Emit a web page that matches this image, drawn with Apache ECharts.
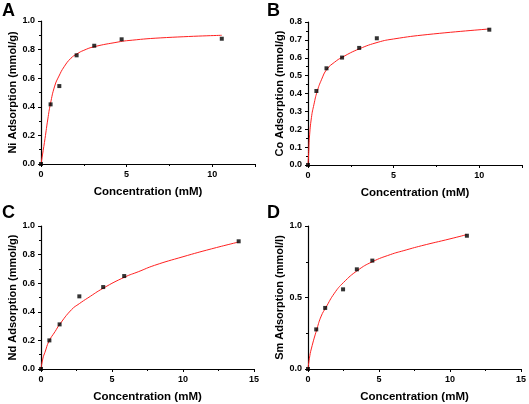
<!DOCTYPE html>
<html><head><meta charset="utf-8">
<script src="https://cdn.jsdelivr.net/npm/echarts@6/dist/echarts.min.js"></script>
<style>html,body{margin:0;padding:0;background:#fff}#c{width:529px;height:404px}</style>
</head><body><div id="c"></div>
<script>
// Panel A (Ni)
const aX = [0, 0.56, 1.07, 2.08, 3.11, 4.71, 10.56];
const aY = [0, 0.417, 0.545, 0.76, 0.827, 0.872, 0.876];
const aFitX = [0, 0.2, 0.4, 0.55, 0.8, 1.05, 1.35, 1.75, 2.1, 2.5, 3.1, 4.5, 5, 7, 10.56];
const aFitY = [0, 0.15, 0.315, 0.42, 0.545, 0.615, 0.68, 0.74, 0.77, 0.795, 0.82, 0.853, 0.862, 0.882, 0.90];
// Panel B (Co)
const bX = [0, 0.49, 1.08, 1.99, 2.99, 4.02, 10.59];
const bY = [0, 0.414, 0.541, 0.601, 0.655, 0.709, 0.757];
const bFitX = [0, 0.04, 0.08, 0.2, 0.35, 0.53, 0.8, 1.1, 1.55, 2, 3, 4.1, 5, 7, 10.59];
const bFitY = [0, 0.07, 0.15, 0.265, 0.34, 0.41, 0.48, 0.535, 0.575, 0.603, 0.65, 0.687, 0.705, 0.73, 0.761];
// Panel C (Nd)
const cX = [0, 0.59, 1.31, 2.70, 4.38, 5.86, 13.92];
const cY = [0, 0.20, 0.312, 0.508, 0.573, 0.650, 0.893];
const cFitX = [0, 0.14, 0.28, 0.56, 1, 1.3, 2.15, 2.7, 3.3, 4.4, 5.9, 6.85, 8, 10, 12, 13.92];
const cFitY = [0, 0.077, 0.117, 0.194, 0.263, 0.31, 0.415, 0.457, 0.497, 0.566, 0.643, 0.68, 0.725, 0.785, 0.84, 0.888];
// Panel D (Sm)
const dX = [0, 0.58, 1.21, 2.47, 3.44, 4.53, 11.19];
const dY = [0, 0.277, 0.427, 0.557, 0.697, 0.758, 0.932];
const dFitX = [0, 0.1, 0.23, 0.63, 0.93, 1.26, 1.86, 2.5, 3.5, 4.53, 5.8, 6.75, 8, 10, 11.19];
const dFitY = [0, 0.075, 0.14, 0.28, 0.37, 0.43, 0.53, 0.605, 0.69, 0.75, 0.80, 0.828, 0.862, 0.91, 0.94];

const letters = ['A', 'B', 'C', 'D'];
const yNames = ['Ni Adsorption (mmol/g)', 'Co Adsorption (mmol/g)', 'Nd Adsorption (mmol/g)', 'Sm Adsorption (mmol/l)'];
const xName = 'Concentration (mM)';
const xMax = [12.5, 12.5, 15, 15];
const yMax = [1.0, 0.8, 1.0, 1.0];
const yInt = [0.2, 0.1, 0.2, 0.5];

const FONT = '"Liberation Sans", Arial, sans-serif';
const grids = [
  {left: 41, top: 21, width: 214, height: 143},
  {left: 308, top: 22, width: 214, height: 143},
  {left: 41, top: 226, width: 213, height: 143},
  {left: 308, top: 226, width: 215, height: 143}
];
const letterPos = [[2, 2], [267, 2], [2, 204], [267, 204]];

const zip = (xs, ys) => xs.map((x, i) => [x, ys[i]]);
const pts = [zip(aX, aY), zip(bX, bY), zip(cX, cY), zip(dX, dY)];
const fits = [zip(aFitX, aFitY), zip(bFitX, bFitY), zip(cFitX, cFitY), zip(dFitX, dFitY)];

const axisLine = {show: true, onZero: false, lineStyle: {color: '#000', width: 1.2}};
const xAxis = [], yAxis = [], series = [], graphic = [];
for (let i = 0; i < 4; i++) {
  xAxis.push({
    type: 'value', gridIndex: i, min: 0, max: xMax[i], interval: 5,
    name: xName, nameLocation: 'middle', nameGap: 22,
    nameTextStyle: {fontFamily: FONT, fontWeight: 'bold', fontSize: 11.5, color: '#000'},
    axisLine: axisLine,
    axisTick: {show: true, inside: false, length: 3, lineStyle: {color: '#000'}},
    minorTick: {show: true, splitNumber: 2, length: 2, lineStyle: {color: '#000'}},
    axisLabel: {fontFamily: FONT, fontWeight: 'bold', fontSize: 9, color: '#000', margin: 6,
      formatter: v => (v % 5 !== 0) ? '' : String(v), showMaxLabel: xMax[i] === 15},
    splitLine: {show: false}
  });
  yAxis.push({
    type: 'value', gridIndex: i, min: 0, max: yMax[i], interval: yInt[i],
    name: yNames[i], nameLocation: 'middle', nameGap: 20,
    nameTextStyle: {fontFamily: FONT, fontWeight: 'bold', fontSize: 11, color: '#000'},
    axisLine: axisLine,
    axisTick: {show: true, inside: false, length: 3, lineStyle: {color: '#000'}},
    minorTick: {show: true, splitNumber: 2, length: 2, lineStyle: {color: '#000'}},
    axisLabel: {fontFamily: FONT, fontWeight: 'bold', fontSize: 9, color: '#000', margin: 6,
      formatter: v => v.toFixed(1)},
    splitLine: {show: false}
  });
  series.push({
    type: 'line', xAxisIndex: i, yAxisIndex: i, data: fits[i], smooth: 0.5,
    showSymbol: false, symbol: 'none', lineStyle: {color: '#ff2020', width: 1}, z: 2, animation: false
  });
  series.push({
    type: 'scatter', xAxisIndex: i, yAxisIndex: i, data: pts[i], symbol: 'rect', symbolSize: 4,
    itemStyle: {color: '#000'}, z: 3, animation: false
  });
  graphic.push({
    type: 'text', left: letterPos[i][0], top: letterPos[i][1],
    style: {text: letters[i], font: 'bold 18px ' + FONT, fill: '#000'}
  });
}

const chart = echarts.init(document.getElementById('c'), null, {renderer: 'canvas'});
chart.setOption({animation: false, grid: grids, xAxis, yAxis, series, graphic});
</script></body></html>
